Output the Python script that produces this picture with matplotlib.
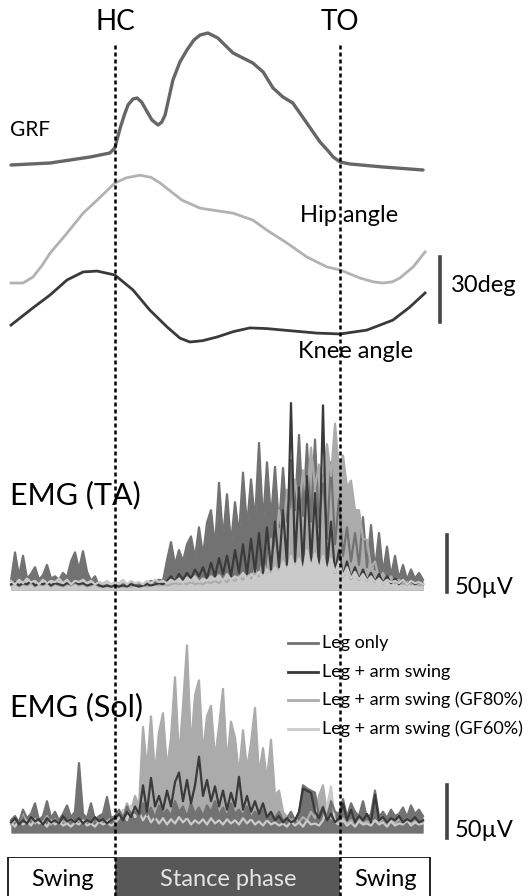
import numpy as np
import matplotlib
matplotlib.use("Agg")
import matplotlib.pyplot as plt

plt.rcParams['font.family'] = ['Lato', 'DejaVu Sans']

W, H = 531, 896

# gait events (% of plotted window)
HC, TO = 25.2, 79.9

# ground reaction force (arbitrary units)
grf_x = [0, 9.5, 19.2, 24.0, 25.2, 26.5, 27.5, 28.4, 29.6, 30.6, 31.7, 32.8, 34.2, 35.7, 36.6, 37.4,
         39.3, 41.0, 42.7, 44.4, 45.9, 47.8, 50.2, 52.4, 53.9, 56.3, 58.7, 61.2, 63.6, 66.0, 68.4,
         71.8, 75.0, 77.0, 78.2, 79.9, 82.3, 90.3, 100]
grf_y = [5, 7, 13, 17, 22, 42, 55, 65, 71, 72, 68, 60, 50, 45, 48, 55,
         90, 108, 120, 130, 135, 137, 132, 123, 117, 112, 107, 98, 82, 73, 67,
         47, 28, 19, 13, 8, 6, 3, 0]

# joint angles (deg)
hip_x = [0, 2.9, 5.3, 7.5, 9.5, 13.6, 17.5, 20.9, 25.2, 28.0, 31.3, 34.0, 36.2, 41.5, 45.9, 50.0,
         53.9, 58.7, 62.1, 67.0, 71.8, 76.7, 79.9, 84.7, 88.0, 90.3, 92.5, 94.4, 97.6, 100.5]
hip_y = [-11.5, -11.5, -8.8, -3.5, 2.3, 11.5, 20.7, 26.7, 34.6, 37.0, 38.2, 37.2, 34.6, 26.7, 23.0, 21.8,
         20.7, 17.5, 12.9, 6.9, 0.5, -4.1, -5.5, -9.2, -11.0, -11.5, -11.0, -9.2, -4.1, 2.8]
knee_x = [0, 5.3, 9.5, 13.6, 17.5, 20.9, 25.2, 29.6, 33.7, 37.9, 41.0, 43.4, 46.5, 50.0, 54.0, 58.0,
          62.0, 66.0, 74.3, 79.9, 86.4, 92.7, 96.8, 100.5]
knee_y = [7.8, 15.7, 21.7, 28.6, 32.3, 32.7, 30.9, 24.0, 14.7, 6.9, 1.8, 0, 0.6, 2.3, 4.8, 6.5,
          6.2, 5.5, 4.1, 3.7, 5.5, 10.1, 16.1, 22.6]

# EMG tibialis anterior (uV), 104 samples over the window
ta_leg = [8, 33, 12, 30, 10, 14, 20, 9, 13, 22, 10, 12, 9, 15, 11, 25, 33, 18, 34, 16, 8, 12,
          4, 3, 4, 3, 4, 3, 5, 4, 7, 4, 5, 4, 6, 8, 7, 9, 8,
          26, 42, 22, 35, 25, 40, 47, 28, 55, 30, 59, 70, 38, 94, 45, 84, 40, 77, 48, 103, 55, 97, 60,
          129, 58, 112, 62, 108, 55, 107, 60, 114, 70, 136, 65, 128, 60, 132, 55, 100, 45, 112, 40, 80,
          30, 55, 25, 50, 22, 64, 20, 57, 18, 50, 15, 38, 12, 30, 10, 22, 9, 18, 10, 15, 9]
ta_arm = [5, 7, 4, 6, 5, 8, 4, 6, 5, 7, 4, 6, 5, 4, 6, 5, 7, 5, 6, 4, 5, 6, 4, 3, 4, 3, 4, 3, 4, 3,
          5, 4, 3, 4, 5, 4, 5, 6, 5,
          8, 12, 7, 14, 9, 15, 10, 18, 12, 20, 10, 24, 12, 28, 14, 30, 12, 35, 15, 40,
          14, 45, 16, 50, 15, 55, 18, 60, 20, 70, 22, 164, 25, 90, 20, 100, 24, 85, 20, 162,
          18, 60, 15, 35, 12, 25, 10, 20, 9, 18, 8, 15, 7, 14, 6, 12, 6, 10, 5, 9, 5, 8, 5, 7, 5]
ta_gf80 = [4, 6, 3, 5, 4, 6, 3, 5, 4, 6, 3, 5, 4, 3, 5, 4, 6, 4, 5, 3, 4, 5, 3, 4, 3, 4, 3, 4, 3, 4,
           3, 4, 3, 4, 3, 4, 5, 4, 5, 4, 5, 6, 5, 6, 5, 7, 5, 6, 5, 7, 6, 8, 6, 9, 7, 10, 8, 12, 9, 14,
           10, 18, 12, 25, 15,
           45, 30, 70, 45, 88, 60, 97, 70, 105, 80, 125, 90, 110, 95, 128, 100, 146, 105, 118, 90,
           96, 70, 70, 45, 44, 20, 25, 10, 15, 8, 12, 6, 9, 5, 7, 5, 6, 4, 5]
ta_gf60 = [8, 5, 9, 6, 10, 7, 8, 5, 9, 6, 8, 7, 10, 6, 9, 5, 8, 7, 9, 6, 8, 5, 7, 6, 8, 5, 7, 6, 9, 5,
           8, 6, 7, 5, 8, 6, 9, 7, 8, 6,
           9, 7, 10, 6, 11, 8, 12, 7, 10, 8, 12, 9, 13, 8, 14, 9, 12, 10, 15, 9, 14, 11, 16, 10, 18, 12,
           20, 14, 25, 15, 30, 18, 28, 16, 35, 20, 32, 18, 30, 16,
           28, 15, 25, 12, 20, 10, 16, 9, 14, 8, 12, 7, 10, 6, 9, 7, 8, 6, 9, 5, 8, 6, 7, 5]

# EMG soleus (uV)
sol_leg = [12, 16, 10, 22, 14, 18, 28, 12, 16, 30, 14, 20, 12, 18, 26, 15, 20, 66, 18, 14, 28, 12, 16,
           18, 34, 14,
           16, 22, 14, 25, 18, 20, 15, 28, 17, 24, 14, 26, 18, 22, 16, 30, 20, 25, 15, 28, 18, 24, 16,
           26, 20, 30, 17, 24, 15, 28, 18, 22, 16, 25, 14, 20, 15, 22, 13, 18, 14, 20, 12,
           14, 20, 12, 18, 45, 42, 40, 38, 16, 25, 14, 30, 20,
           18, 32, 15, 28, 20, 16, 30, 14, 18, 40, 15, 20, 14, 22, 16, 18, 24, 15, 26, 18, 22, 16]
sol_arm = [10, 14, 8, 12, 9, 15, 11, 13, 8, 14, 10, 12, 9, 16, 11, 13, 10, 14, 9, 12, 10, 15, 11, 13,
           9, 12,
           14, 18, 12, 20, 15, 25, 18, 45, 20, 52, 25, 35, 22, 40, 25, 48, 57, 30, 50, 28, 45, 72, 35,
           50, 30, 44, 25, 40, 22, 38, 25, 53, 22, 35, 20, 30, 18, 28, 15, 20, 12, 16, 10, 14, 10, 12,
           20, 42, 40, 38, 20, 14, 24, 12, 18, 10,
           14, 28, 12, 22, 10, 16, 12, 18, 10, 36, 12, 15, 10, 14, 12, 16, 10, 13, 11, 15, 10, 12]
sol_gf80 = [8, 12, 9, 20, 10, 14, 9, 12, 10, 16, 8, 13, 9, 11, 10, 14, 9, 12, 10, 11, 9, 13, 10, 12,
            11, 14,
            12, 20, 15, 28, 20, 35, 25, 100, 60, 110, 55, 95, 113, 60, 90, 147, 70, 120, 177, 80, 130,
            144, 75, 110, 120, 70, 100, 136, 65, 105, 90, 55, 97, 60, 85, 118, 55, 80, 50, 88, 35, 40,
            20, 15, 12, 14, 10, 15, 12, 20, 14, 35, 45, 18, 14, 12,
            10, 14, 9, 12, 10, 13, 9, 11, 10, 12, 9, 14, 10, 12, 9, 13, 10, 12, 9, 11, 10, 12]
sol_gf60 = [10, 6, 12, 8, 11, 7, 13, 9, 10, 6, 12, 8, 11, 7, 9, 6, 10, 8, 12, 7, 9, 6, 11, 8, 10, 7,
            9, 14, 22, 12, 26, 15, 20, 12, 18, 10, 15, 9, 14, 8, 13, 9, 15, 10, 14, 8, 12, 9, 13, 8,
            14, 9, 12, 8, 13, 9, 12, 8, 14, 9, 13, 8, 11, 7, 12, 8, 10, 7, 9, 6, 11, 7, 10, 6, 12, 8,
            9, 7, 12, 25, 44, 10,
            8, 12, 7, 10, 6, 11, 8, 9, 7, 12, 8, 10, 6, 11, 7, 9, 8, 12, 7, 10, 8, 9]

conditions = ["Leg only", "Leg + arm swing", "Leg + arm swing (GF80%)", "Leg + arm swing (GF60%)"]
colors = ["#727272", "#3a3a3a", "#ababab", "#cacaca"]

emg_x = np.linspace(0, 100, len(ta_leg))

# horizontal mapping: window 0..100 % spans pixels 11..423
XL = (-11 / 4.12, (W - 11) / 4.12)


def add_ax(top, bottom):
    ax = fig.add_axes([0, 1 - bottom / H, 1, (bottom - top) / H])
    ax.set_xlim(*XL)
    ax.axis('off')
    return ax


def ftext(px, py, s, **kw):
    fig.text(px / W, 1 - py / H, s, **kw)


def emg(ax, sig, c, filled):
    if filled:
        ax.fill_between(emg_x, 0, sig, color=c, lw=0)
    ax.plot(emg_x, sig, color=c, lw=1.6)


fig = plt.figure(figsize=(W / 100, H / 100), dpi=100)

# GRF
ax = add_ax(20, 180)
ax.set_ylim(-10, 150)
ax.plot(grf_x, grf_y, color="#666666", lw=2.4, solid_capstyle='round', solid_joinstyle='round')

# angles
ax = add_ax(170, 360)
ax.set_ylim(0, 87.6)
ax.plot(hip_x, np.array(hip_y) + 47.0, color="#b2b2b2", lw=2.0, solid_joinstyle='round')
ax.plot(knee_x, np.array(knee_y) + 8.3, color="#3a3a3a", lw=2.0, solid_joinstyle='round')
ax.plot([104.1, 104.1], [17.5, 47.5], color="#444444", lw=2.6)

# EMG TA
ax = add_ax(380, 600)
ax.set_ylim(-10 / 1.14, 210 / 1.14)
emg(ax, ta_leg, colors[0], True)
emg(ax, ta_gf80, colors[2], True)
emg(ax, ta_arm, colors[1], False)
emg(ax, ta_gf60, colors[3], True)
ax.plot([105.8, 105.8], [-2, 48], color="#444444", lw=2.6)

# EMG Sol
ax = add_ax(620, 845)
ax.set_ylim(-12 / 1.06, 213 / 1.06)
emg(ax, sol_gf80, colors[2], True)
emg(ax, sol_gf60, colors[3], True)
emg(ax, sol_leg, colors[0], True)
emg(ax, sol_arm, colors[1], False)
ax.plot([105.8, 105.8], [-5, 45], color="#444444", lw=2.6)

# phase bar
ax = add_ax(857, 897)
ax.set_ylim(0, 1)
ax.add_patch(plt.Rectangle((-0.73, 0), 102.5, 1, fill=False, ec='black', lw=1.2))
ax.add_patch(plt.Rectangle((HC, 0), TO - HC, 1, color="#585858", lw=0))
ax.text(12.4, 0.45, "Swing", ha='center', va='center', fontsize=17)
ax.text(52.7, 0.45, "Stance phase", ha='center', va='center', fontsize=17, color="#e4e4e4")
ax.text(90.8, 0.45, "Swing", ha='center', va='center', fontsize=17)

# event lines across the whole figure
ov = fig.add_axes([0, 0, 1, 1])
ov.set_xlim(*XL)
ov.set_ylim(0, 1)
ov.axis('off')
for xv in (HC, TO):
    ov.axvline(xv, ymin=0, ymax=1 - 45 / H, color='black', lw=1.8, linestyle=(0, (1.6, 1.2)))

# labels
ftext(115, 22, "HC", ha='center', va='center', fontsize=20)
ftext(340, 22, "TO", ha='center', va='center', fontsize=20)
ftext(10, 130, "GRF", ha='left', va='center', fontsize=15)
ftext(300, 216, "Hip angle", ha='left', va='center', fontsize=17)
ftext(298, 352, "Knee angle", ha='left', va='center', fontsize=17)
ftext(451, 285, "30deg", ha='left', va='center', fontsize=17)
ftext(10, 495, "EMG (TA)", ha='left', va='center', fontsize=22)
ftext(10, 707, "EMG (Sol)", ha='left', va='center', fontsize=22)
ftext(455, 588, "50µV", ha='left', va='center', fontsize=17)
ftext(455, 830, "50µV", ha='left', va='center', fontsize=17)

# legend
for k, (lab, c) in enumerate(zip(conditions, colors)):
    py = 643 + 28.5 * k
    ov.plot([(288 - 11) / 4.12, (318 - 11) / 4.12], [1 - py / H] * 2, color=c, lw=2.0)
    ftext(322, py, lab, ha='left', va='center', fontsize=13)

fig.savefig("out.png", dpi=100)
